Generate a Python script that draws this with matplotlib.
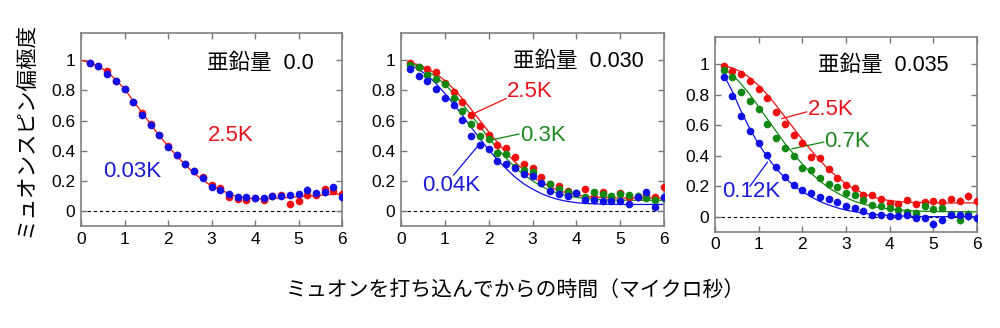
import numpy as np
import matplotlib
matplotlib.use("Agg")
import matplotlib.pyplot as plt

plt.rcParams['font.family'] = ['Liberation Sans', 'Noto Sans CJK JP', 'DejaVu Sans']

# time points (microseconds)
t_pts = [round(0.2 * i, 1) for i in range(1, 31)]
t_fit0 = [round(0.2 * i, 1) for i in range(0, 31)]
t_fit = t_pts

# ---------------- Panel 1: Zn 0.0 ----------------
p1_blue = [0.98, 0.96, 0.91, 0.86, 0.81, 0.72, 0.636, 0.567, 0.505, 0.426,
           0.37, 0.31, 0.263, 0.22, 0.156, 0.14, 0.11, 0.095, 0.095, 0.086,
           0.088, 0.1, 0.1, 0.106, 0.11, 0.141, 0.117, 0.124, 0.157, 0.095]
p1_red = [0.98, 0.96, 0.93, 0.86, 0.81, 0.725, 0.65, 0.58, 0.505, 0.43,
          0.37, 0.31, 0.263, 0.225, 0.17, 0.15, 0.095, 0.08, 0.073, 0.084,
          0.073, 0.1, 0.106, 0.046, 0.066, 0.106, 0.106, 0.143, 0.135, 0.113]
p1_red_fit = [1.0, 0.985, 0.96, 0.925, 0.87, 0.81, 0.73, 0.655, 0.575, 0.5,
              0.43, 0.365, 0.305, 0.25, 0.205, 0.165, 0.14, 0.115, 0.095, 0.085,
              0.08, 0.08, 0.082, 0.086, 0.09, 0.094, 0.098, 0.102, 0.106, 0.11, 0.113]

# ---------------- Panel 2: Zn 0.030 ----------------
p2_red = [0.98, 0.955, 0.94, 0.92, 0.85, 0.786, 0.72, 0.634, 0.565, 0.503,
          0.435, 0.415, 0.36, 0.31, 0.283, 0.223, 0.179, 0.166, 0.135, 0.117,
          0.143, 0.095, 0.128, 0.095, 0.117, 0.09, 0.095, 0.106, 0.09, 0.16]
p2_green = [0.97, 0.955, 0.9, 0.876, 0.845, 0.75, 0.66, 0.576, 0.497, 0.475,
            0.382, 0.377, 0.294, 0.27, 0.26, 0.188, 0.179, 0.146, 0.128, 0.117,
            0.09, 0.128, 0.113, 0.1, 0.113, 0.106, 0.1, 0.088, 0.073, 0.085]
p2_blue = [0.945, 0.896, 0.86, 0.81, 0.75, 0.70, 0.605, 0.495, 0.435, 0.41,
           0.33, 0.313, 0.285, 0.245, 0.23, 0.183, 0.135, 0.113, 0.1, 0.121,
           0.073, 0.073, 0.066, 0.066, 0.066, 0.046, 0.09, 0.124, 0.029, 0.095]
p2_red_fit = [0.985, 0.97, 0.945, 0.91, 0.865, 0.81, 0.745, 0.675, 0.6, 0.525,
              0.455, 0.385, 0.325, 0.27, 0.225, 0.19, 0.16, 0.135, 0.118, 0.105,
              0.097, 0.092, 0.089, 0.087, 0.086, 0.085, 0.085, 0.085, 0.085, 0.085]
p2_green_fit = [0.98, 0.96, 0.93, 0.89, 0.84, 0.78, 0.71, 0.635, 0.56, 0.485,
                0.415, 0.35, 0.29, 0.24, 0.2, 0.165, 0.135, 0.115, 0.1, 0.09,
                0.083, 0.078, 0.075, 0.073, 0.072, 0.071, 0.071, 0.071, 0.071, 0.071]
p2_blue_fit = [0.97, 0.94, 0.9, 0.845, 0.78, 0.71, 0.635, 0.555, 0.48, 0.405,
               0.34, 0.28, 0.225, 0.18, 0.145, 0.115, 0.092, 0.075, 0.063, 0.055,
               0.05, 0.047, 0.045, 0.044, 0.043, 0.043, 0.043, 0.043, 0.043, 0.043]

# ---------------- Panel 3: Zn 0.035 ----------------
p3_red = [0.985, 0.954, 0.936, 0.888, 0.837, 0.78, 0.687, 0.606, 0.537, 0.48,
          0.394, 0.383, 0.313, 0.256, 0.207, 0.187, 0.139, 0.145, 0.119, 0.09,
          0.086, 0.11, 0.081, 0.095, 0.104, 0.097, 0.115, 0.104, 0.134, 0.104]
p3_green = [0.962, 0.916, 0.82, 0.76, 0.705, 0.606, 0.513, 0.447, 0.399, 0.322,
            0.306, 0.256, 0.214, 0.192, 0.154, 0.139, 0.108, 0.079, 0.073, 0.057,
            0.042, 0.031, 0.026, 0.068, 0.053, 0.059, 0.015, -0.024, 0.02, -0.007]
p3_blue = [0.918, 0.79, 0.66, 0.56, 0.485, 0.405, 0.328, 0.262, 0.209, 0.178,
           0.154, 0.13, 0.119, 0.093, 0.073, 0.059, 0.035, 0.013, 0.009, 0.002,
           0.002, 0.013, -0.007, -0.007, -0.046, -0.022, 0.013, 0.011, 0.004, -0.011]
p3_red_fit = [0.99, 0.975, 0.95, 0.91, 0.86, 0.8, 0.73, 0.655, 0.58, 0.505,
              0.435, 0.37, 0.31, 0.26, 0.215, 0.18, 0.152, 0.13, 0.115, 0.105,
              0.099, 0.095, 0.093, 0.092, 0.091, 0.09, 0.09, 0.09, 0.09, 0.09]
p3_green_fit = [0.97, 0.93, 0.87, 0.8, 0.72, 0.64, 0.56, 0.48, 0.41, 0.345,
                0.285, 0.235, 0.19, 0.155, 0.125, 0.1, 0.082, 0.068, 0.057, 0.05,
                0.044, 0.04, 0.037, 0.035, 0.034, 0.033, 0.033, 0.032, 0.032, 0.032]
p3_blue_fit = [0.93, 0.82, 0.69, 0.575, 0.475, 0.39, 0.315, 0.255, 0.205, 0.165,
               0.13, 0.1, 0.077, 0.058, 0.043, 0.032, 0.023, 0.016, 0.011, 0.008,
               0.005, 0.003, 0.002, 0.001, 0.0, 0.0, 0.0, 0.0, 0.0, 0.0]

# error bars (approximate, larger at late times)
err_pts = [0.005, 0.005, 0.005, 0.005, 0.006, 0.006, 0.007, 0.007, 0.008, 0.008,
           0.009, 0.009, 0.010, 0.010, 0.011, 0.012, 0.013, 0.014, 0.015, 0.016,
           0.017, 0.018, 0.019, 0.020, 0.021, 0.022, 0.023, 0.024, 0.025, 0.026]

titles = ['亜鉛量  0.0', '亜鉛量  0.030', '亜鉛量  0.035']
x_ticks = [0, 1, 2, 3, 4, 5, 6]
y_ticks = [0, 0.2, 0.4, 0.6, 0.8, 1.0]
y_ticklabels = ['0', '0.2', '0.4', '0.6', '0.8', '1']

RED = '#f01010'
GREEN = '#118811'
BLUE = '#1010e8'
RED_T = '#e8141b'
GREEN_T = '#1f8a1f'
BLUE_T = '#1a1ad8'

fig = plt.figure(figsize=(10, 3.28), dpi=100)
ax1 = fig.add_axes([0.081, 0.311, 0.261, 0.588])
ax2 = fig.add_axes([0.401, 0.311, 0.263, 0.588])
ax3 = fig.add_axes([0.715, 0.293, 0.262, 0.595])


def style(ax):
    ax.set_xlim(0, 6)
    ax.set_ylim(-0.1, 1.18)
    ax.set_xticks(x_ticks)
    ax.set_yticks(y_ticks)
    ax.set_yticklabels(y_ticklabels)
    ax.tick_params(direction='in', top=True, right=True, length=4, width=1,
                   color='#777777', labelsize=12.5, pad=4)
    for s in ax.spines.values():
        s.set_color('#808080')
        s.set_linewidth(1.2)
    ax.axhline(0, color='black', lw=0.8, ls=(0, (3, 2.5)), zorder=1)


def pts(ax, y, c):
    ax.errorbar(t_pts, y, yerr=err_pts, fmt='o', color=c, ms=5.5, mew=0,
                elinewidth=0.9, capsize=0, zorder=3)


for ax in (ax1, ax2, ax3):
    style(ax)

# Panel 1
ax1.plot(t_fit0, p1_red_fit, color=RED, lw=0.9, zorder=2)
pts(ax1, p1_red, RED)
pts(ax1, p1_blue, BLUE)
ax1.text(2.9, 0.98, titles[0], fontsize=15.5, va='center', ha='left')
ax1.text(3.45, 0.5, '2.5K', color=RED_T, fontsize=16, ha='center', va='center')
ax1.text(1.18, 0.26, '0.03K', color=BLUE_T, fontsize=16, ha='center', va='center')

# Panel 2
ax2.plot(t_fit, p2_red_fit, color=RED, lw=0.9, zorder=2)
ax2.plot(t_fit, p2_green_fit, color=GREEN, lw=0.9, zorder=2)
ax2.plot(t_fit, p2_blue_fit, color=BLUE, lw=0.9, zorder=2)
pts(ax2, p2_red, RED)
pts(ax2, p2_green, GREEN)
pts(ax2, p2_blue, BLUE)
ax2.text(2.56, 0.99, titles[1], fontsize=15.5, va='center', ha='left')
ax2.text(2.42, 0.79, '2.5K', color=RED_T, fontsize=16, ha='left', va='center')
ax2.text(2.72, 0.50, '0.3K', color=GREEN_T, fontsize=16, ha='left', va='center')
ax2.text(0.48, 0.17, '0.04K', color=BLUE_T, fontsize=16, ha='left', va='center')
ax2.plot([1.58, 2.4], [0.636, 0.746], color=RED, lw=0.9)
ax2.plot([2.04, 2.69], [0.47, 0.51], color=GREEN, lw=0.9)
ax2.plot([1.2, 1.77], [0.238, 0.437], color=BLUE, lw=0.9)

# Panel 3
ax3.plot(t_fit, p3_red_fit, color=RED, lw=0.9, zorder=2)
ax3.plot(t_fit, p3_green_fit, color=GREEN, lw=0.9, zorder=2)
ax3.plot(t_fit, p3_blue_fit, color=BLUE, lw=0.9, zorder=2)
pts(ax3, p3_red, RED)
pts(ax3, p3_green, GREEN)
pts(ax3, p3_blue, BLUE)
ax3.text(2.37, 0.99, titles[2], fontsize=15.5, va='center', ha='left')
ax3.text(2.12, 0.70, '2.5K', color=RED_T, fontsize=16, ha='left', va='center')
ax3.text(2.5, 0.49, '0.7K', color=GREEN_T, fontsize=16, ha='left', va='center')
ax3.text(0.16, 0.165, '0.12K', color=BLUE_T, fontsize=16, ha='left', va='center')
ax3.plot([1.53, 2.1], [0.643, 0.687], color=RED, lw=0.9)
ax3.plot([1.76, 2.49], [0.445, 0.489], color=GREEN, lw=0.9)
ax3.plot([0.8, 1.2], [0.2, 0.357], color=BLUE, lw=0.9)

fig.text(0.026, 0.605, 'ミュオンスピン偏極度', rotation=90, fontsize=15.5,
         ha='center', va='center', family=['Noto Sans CJK JP'])
fig.text(0.515, 0.116, 'ミュオンを打ち込んでからの時間（マイクロ秒）', fontsize=15,
         ha='center', va='center', family=['Noto Sans CJK JP'])

fig.savefig('out.png', dpi=100)
